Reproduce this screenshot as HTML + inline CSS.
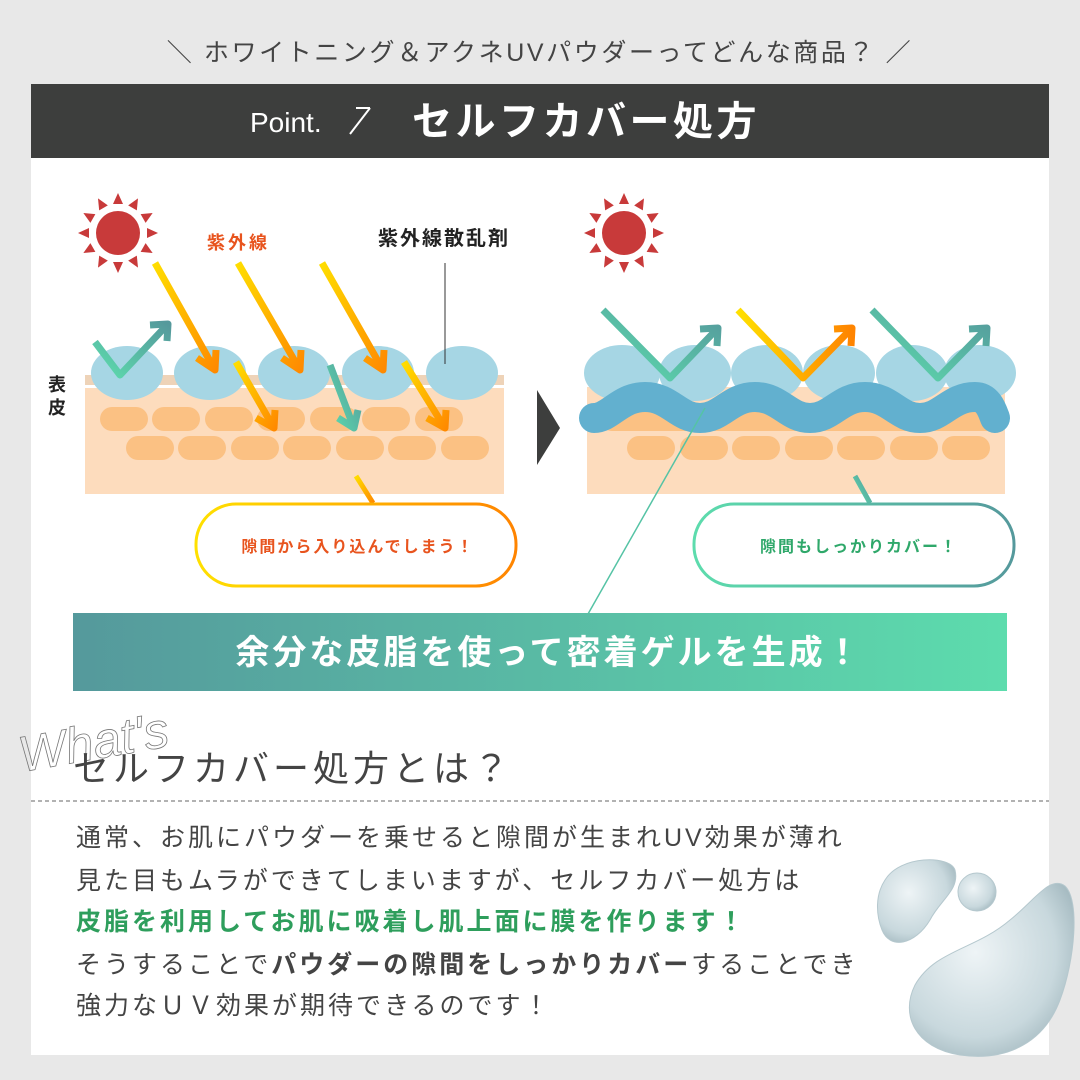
<!DOCTYPE html>
<html><head><meta charset="utf-8"><style>
body{margin:0;width:1080px;height:1080px;overflow:hidden;background:#e8e8e8}
svg{display:block}
text{font-family:"Liberation Sans","Noto Sans CJK JP",sans-serif}
</style></head><body>
<svg width="1080" height="1080" viewBox="0 0 1080 1080" xmlns="http://www.w3.org/2000/svg">
<defs>
<linearGradient id="yo" x1="0" y1="0" x2="1" y2="1"><stop offset="0" stop-color="#ffdd00"/><stop offset="1" stop-color="#ff8a00"/></linearGradient>
<linearGradient id="yoh" x1="0" y1="0" x2="1" y2="0"><stop offset="0" stop-color="#ffe000"/><stop offset="1" stop-color="#ff8400"/></linearGradient>
<linearGradient id="gt" x1="0" y1="0" x2="1" y2="0"><stop offset="0" stop-color="#5ddcad"/><stop offset="1" stop-color="#55999c"/></linearGradient>
<linearGradient id="ban" x1="0" y1="0" x2="1" y2="0"><stop offset="0" stop-color="#55999c"/><stop offset="1" stop-color="#5ddcad"/></linearGradient>
<linearGradient id="tc" x1="0" y1="1" x2="1" y2="0"><stop offset="0" stop-color="#5ddcad"/><stop offset="1" stop-color="#55999c"/></linearGradient>
<radialGradient id="drop" cx="0.4" cy="0.4" r="0.7"><stop offset="0" stop-color="#eef4f6"/><stop offset="0.7" stop-color="#c8d8dd"/><stop offset="1" stop-color="#9fb5bc"/></radialGradient>
<g id="sun" fill="#c83a3a">
<circle r="22"/>
<polygon points="0,-40 -5,-29 5,-29"/><polygon points="0,40 -5,29 5,29"/>
<polygon points="-40,0 -29,-5 -29,5"/><polygon points="40,0 29,-5 29,5"/>
<g transform="rotate(30)"><polygon points="0,-40 -5,-29 5,-29"/><polygon points="0,40 -5,29 5,29"/><polygon points="-40,0 -29,-5 -29,5"/><polygon points="40,0 29,-5 29,5"/></g>
<g transform="rotate(60)"><polygon points="0,-40 -5,-29 5,-29"/><polygon points="0,40 -5,29 5,29"/><polygon points="-40,0 -29,-5 -29,5"/><polygon points="40,0 29,-5 29,5"/></g>
</g>
</defs>
<rect x="31" y="84" width="1018" height="971" fill="#fff"/>
<text x="540" y="61" text-anchor="middle" font-size="25" letter-spacing="2.6" fill="#444">＼ ホワイトニング＆アクネUVパウダーってどんな商品？ ／</text>
<rect x="31" y="84" width="1018" height="74" fill="#3d3e3d"/>
<text x="250" y="132" font-size="28" fill="#fff">Point.</text>
<line x1="350" y1="134" x2="370" y2="108" stroke="#fff" stroke-width="2"/><line x1="356" y1="108" x2="370" y2="108" stroke="#fff" stroke-width="2"/>
<text x="412" y="135" font-size="40" font-weight="bold" letter-spacing="3.5" fill="#fff">セルフカバー処方</text>

<use href="#sun" x="118" y="233"/>
<text x="207" y="249" font-size="18" font-weight="bold" letter-spacing="3" fill="#e8541e">紫外線</text>
<text x="378" y="245" font-size="20" font-weight="bold" letter-spacing="2" fill="#222">紫外線散乱剤</text>
<rect x="85" y="375" width="419" height="10" fill="#eed3b8"/>
<rect x="85" y="388" width="419" height="106" fill="#fddcbd"/>
<g fill="#fbc183">
<rect x="100" y="407" width="48" height="24" rx="12"/><rect x="152" y="407" width="48" height="24" rx="12"/><rect x="205" y="407" width="48" height="24" rx="12"/><rect x="257" y="407" width="48" height="24" rx="12"/><rect x="310" y="407" width="48" height="24" rx="12"/><rect x="362" y="407" width="48" height="24" rx="12"/><rect x="415" y="407" width="48" height="24" rx="12"/>
<rect x="126" y="436" width="48" height="24" rx="12"/><rect x="178" y="436" width="48" height="24" rx="12"/><rect x="231" y="436" width="48" height="24" rx="12"/><rect x="283" y="436" width="48" height="24" rx="12"/><rect x="336" y="436" width="48" height="24" rx="12"/><rect x="388" y="436" width="48" height="24" rx="12"/><rect x="441" y="436" width="48" height="24" rx="12"/>
</g>
<g fill="#a6d6e4">
<ellipse cx="127" cy="373" rx="36" ry="27"/><ellipse cx="210" cy="373" rx="36" ry="27"/><ellipse cx="294" cy="373" rx="36" ry="27"/><ellipse cx="378" cy="373" rx="36" ry="27"/><ellipse cx="462" cy="373" rx="36" ry="27"/>
</g>
<line x1="445" y1="263" x2="445" y2="364" stroke="#333" stroke-width="1"/>
<g fill="none" stroke="url(#yo)" stroke-width="7" stroke-linejoin="round">
<path d="M155 263 L215 370 M197 358 L215 370 L216 350"/>
<path d="M238 263 L300 370 M282 358 L300 370 L301 350"/>
<path d="M322 263 L383 370 M365 358 L383 370 L384 350"/>
<path d="M236 362 L274 428 M256 418 L274 428 L275 410"/>
<path d="M404 362 L445 428 M427 418 L445 428 L446 410"/>
</g>
<g fill="none" stroke="url(#tc)" stroke-width="7" stroke-linejoin="round">
<path d="M330 365 L354 428 M338 418 L354 428 L358 410"/>
<path d="M95 342 L120 375 L168 324 M150 325 L168 324 L167 341"/>
</g>
<text font-size="18" font-weight="bold" fill="#222"><tspan x="48" y="391">表</tspan><tspan x="48" y="414">皮</tspan></text>
<polygon points="537,390 560,428 537,465" fill="#3d3e3d"/>

<use href="#sun" x="624" y="233"/>
<rect x="587" y="387" width="418" height="107" fill="#fddcbd"/>
<g fill="#fbc183">
<rect x="627" y="436" width="48" height="24" rx="12"/><rect x="680" y="436" width="48" height="24" rx="12"/><rect x="732" y="436" width="48" height="24" rx="12"/><rect x="785" y="436" width="48" height="24" rx="12"/><rect x="837" y="436" width="48" height="24" rx="12"/><rect x="890" y="436" width="48" height="24" rx="12"/><rect x="942" y="436" width="48" height="24" rx="12"/>
<rect x="600" y="407" width="400" height="24" rx="12"/>
</g>
<g fill="#a6d6e4">
<ellipse cx="622" cy="373" rx="38" ry="28"/><ellipse cx="695" cy="373" rx="36" ry="28"/><ellipse cx="767" cy="373" rx="36" ry="28"/><ellipse cx="839" cy="373" rx="36" ry="28"/><ellipse cx="912" cy="373" rx="36" ry="28"/><ellipse cx="980" cy="373" rx="36" ry="28"/>
</g>
<path d="M594 418 C610 418 620 397 645 397 C670 397 678 418 700 418 C722 418 730 397 755 397 C780 397 788 418 810 418 C832 418 840 397 865 397 C890 397 898 418 920 418 C942 418 950 397 975 397 C988 397 992 410 995 418" fill="none" stroke="#62b0cf" stroke-width="30" stroke-linecap="round"/>
<g fill="none" stroke-width="7" stroke-linejoin="round">
<path d="M603 310 L670 378 L718 328 M700 329 L718 328 L717 346" stroke="url(#tc)"/>
<path d="M738 310 L803 378 L852 328 M834 329 L852 328 L851 346" stroke="url(#yoh)"/>
<path d="M872 310 L938 378 L987 328 M969 329 L987 328 L986 346" stroke="url(#tc)"/>
</g>

<line x1="356" y1="476" x2="373" y2="503" stroke="url(#yo)" stroke-width="5"/>
<rect x="196" y="504" width="320" height="82" rx="40" fill="#fff" stroke="url(#yoh)" stroke-width="3"/>
<text x="358" y="552" text-anchor="middle" font-size="16" font-weight="bold" letter-spacing="2" fill="#e8541e">隙間から入り込んでしまう！</text>
<line x1="855" y1="476" x2="870" y2="503" stroke="url(#tc)" stroke-width="5"/>
<rect x="694" y="504" width="320" height="82" rx="40" fill="#fff" stroke="url(#gt)" stroke-width="3"/>
<text x="859" y="552" text-anchor="middle" font-size="16" font-weight="bold" letter-spacing="2" fill="#2fa86a">隙間もしっかりカバー！</text>
<line x1="705" y1="408" x2="588" y2="614" stroke="#55c3a5" stroke-width="1.5"/>
<rect x="73" y="613" width="934" height="78" fill="url(#ban)"/>
<text x="549" y="664" text-anchor="middle" font-size="34" font-weight="bold" letter-spacing="3" fill="#fff">余分な皮脂を使って密着ゲルを生成！</text>

<text x="22" y="772" font-size="50" font-style="italic" fill="none" stroke="#777" stroke-width="0.8" font-family="Liberation Serif,serif" transform="rotate(-10 22 772)">What's</text>
<text x="73" y="781" font-size="36" letter-spacing="4" fill="#444" font-family="Liberation Serif,'Noto Serif CJK SC',serif">セルフカバー処方とは？</text>
<line x1="31" y1="801" x2="1049" y2="801" stroke="#999" stroke-width="1.5" stroke-dasharray="4 3"/>
<g font-size="25" letter-spacing="3" fill="#444">
<text x="76" y="846">通常、お肌にパウダーを乗せると隙間が生まれUV効果が薄れ</text>
<text x="76" y="889">見た目もムラができてしまいますが、セルフカバー処方は</text>
<text x="76" y="930" font-weight="bold" fill="#2e9e5c">皮脂を利用してお肌に吸着し肌上面に膜を作ります！</text>
<text x="76" y="973">そうすることで<tspan font-weight="bold">パウダーの隙間をしっかりカバー</tspan>することでき</text>
<text x="76" y="1014">強力なＵＶ効果が期待できるのです！</text>
</g>
<path d="M885 880 C900 855 950 855 955 870 C960 890 940 900 930 920 C915 945 890 950 882 930 C876 915 875 895 885 880Z" fill="url(#drop)" stroke="#b5c8ce"/>
<circle cx="977" cy="892" r="19" fill="url(#drop)" stroke="#b5c8ce"/>
<path d="M1065 886 C1080 900 1075 960 1060 1000 C1045 1040 1010 1062 960 1055 C915 1048 900 1015 915 985 C935 950 975 950 1010 920 C1035 900 1050 875 1065 886Z" fill="url(#drop)" stroke="#b5c8ce"/>
</svg>
</body></html>
